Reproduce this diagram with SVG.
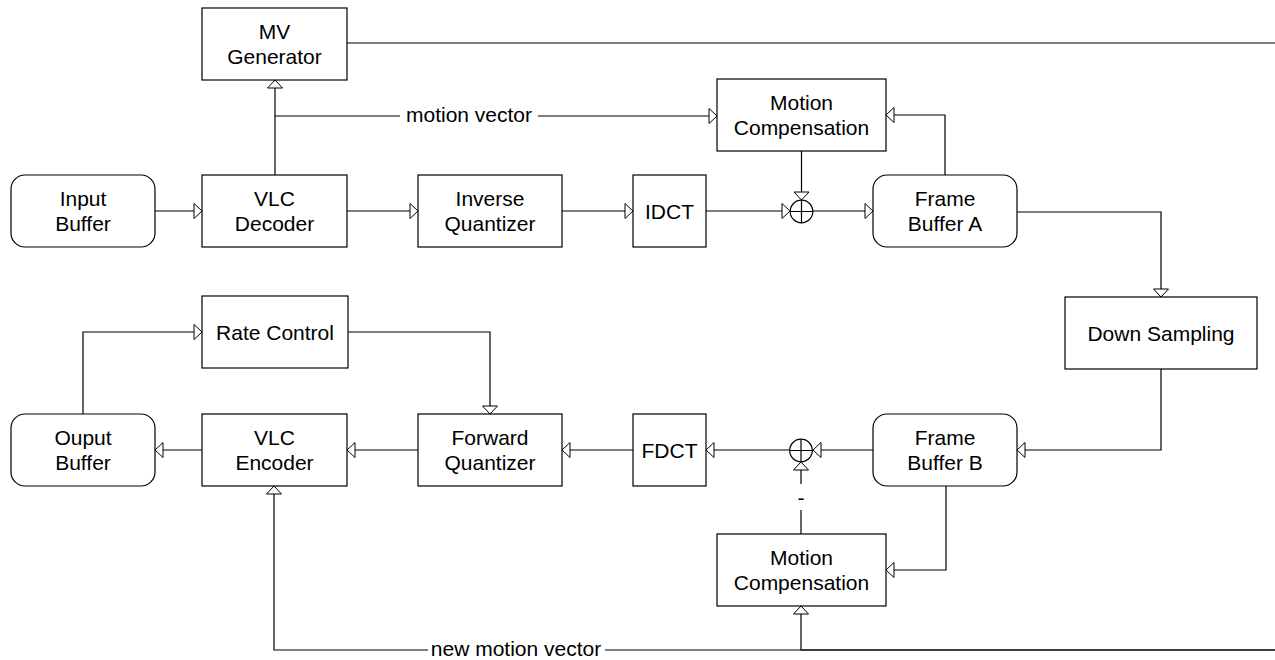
<svg xmlns="http://www.w3.org/2000/svg" width="1275" height="660" viewBox="0 0 1275 660">
  <defs>
    <marker id="arrow" markerUnits="userSpaceOnUse" markerWidth="10" markerHeight="18" viewBox="-1 -1 10 18" refX="8" refY="8" orient="auto" overflow="visible">
      <path d="M0,0.5 L8,8 L0,15.5 Z" fill="#fff" stroke="#000" stroke-width="1"/>
    </marker>
    <style>
      .box { fill: #fff; stroke: #000; stroke-width: 1.2; }
      .lbl { font-family: "Liberation Sans", Arial, sans-serif; font-size: 21px; fill: #000; text-anchor: middle; }
      .wire { fill: none; stroke: #000; stroke-width: 1.2; }
      .arr { marker-end: url(#arrow); }
      .gap { fill: #fff; stroke: none; }
    </style>
  </defs>
  <rect width="1275" height="660" fill="#fff"/>

  <!-- connectors -->
  <g id="connectors">
    <path class="wire arr" d="M155,211 H202"/>
    <path class="wire arr" d="M347,211 H418"/>
    <path class="wire arr" d="M562,211 H633"/>
    <path class="wire arr" d="M706,211 H790"/>
    <path class="wire arr" d="M813,211 H873"/>
    <path class="wire arr" d="M275,175 V80"/>
    <path class="wire arr" d="M275,116 H717"/>
    <rect class="gap" x="400" y="104" width="138" height="24"/>
    <text class="lbl" x="469" y="121.5">motion vector</text>
    <path class="wire" d="M347,43 H1275"/>
    <path class="wire arr" d="M945,175 V115 H886"/>
    <path class="wire arr" d="M801.5,151 V200"/>
    <path class="wire arr" d="M1017,212 H1161 V297"/>
    <path class="wire arr" d="M1161,369 V450 H1017"/>
    <path class="wire arr" d="M873,450 H813"/>
    <path class="wire arr" d="M790,450 H706"/>
    <path class="wire arr" d="M633,450 H562"/>
    <path class="wire arr" d="M418,450 H347"/>
    <path class="wire arr" d="M202,450 H155"/>
    <path class="wire arr" d="M83,414 V332 H202"/>
    <path class="wire arr" d="M347,332 H490 V414"/>
    <path class="wire arr" d="M946,486 V570 H886"/>
    <path class="wire arr" d="M801,534 V462"/>
    <rect class="gap" x="794" y="484" width="14" height="26"/>
    <text class="lbl" x="801" y="505">-</text>
    <path class="wire arr" d="M1275,650 H274 V486"/>
    <path class="wire arr" d="M1275,650 H801 V606"/>
    <rect class="gap" x="428" y="638" width="177" height="22"/>
    <text class="lbl" x="516" y="655.5">new motion vector</text>
  </g>

  <!-- summing junctions -->
  <g id="sum-top">
    <circle cx="801.5" cy="211.5" r="11.3" fill="#fff" stroke="#000" stroke-width="1.2"/>
    <path class="wire" d="M790.2,211.5 H812.8 M801.5,200.2 V222.8"/>
  </g>
  <g id="sum-bottom">
    <circle cx="801" cy="450.5" r="11.3" fill="#fff" stroke="#000" stroke-width="1.2"/>
    <path class="wire" d="M789.7,450.5 H812.3 M801,439.2 V461.8"/>
  </g>

  <g id="input-buffer">
    <rect class="box" x="11" y="175" width="144" height="72" rx="14"/>
    <text class="lbl" x="83" y="206">Input</text>
    <text class="lbl" x="83" y="230.5">Buffer</text>
  </g>
  <g id="vlc-decoder">
    <rect class="box" x="202" y="175" width="145" height="72"/>
    <text class="lbl" x="274.5" y="206">VLC</text>
    <text class="lbl" x="274.5" y="230.5">Decoder</text>
  </g>
  <g id="mv-generator">
    <rect class="box" x="202" y="8" width="145" height="72"/>
    <text class="lbl" x="274.5" y="39">MV</text>
    <text class="lbl" x="274.5" y="63.5">Generator</text>
  </g>
  <g id="inverse-quantizer">
    <rect class="box" x="418" y="175" width="144" height="72"/>
    <text class="lbl" x="490" y="206">Inverse</text>
    <text class="lbl" x="490" y="230.5">Quantizer</text>
  </g>
  <g id="idct">
    <rect class="box" x="633" y="175" width="73" height="72"/>
    <text class="lbl" x="669.5" y="218.5">IDCT</text>
  </g>
  <g id="motion-compensation-a">
    <rect class="box" x="717" y="79" width="169" height="72"/>
    <text class="lbl" x="801.5" y="110">Motion</text>
    <text class="lbl" x="801.5" y="134.5">Compensation</text>
  </g>
  <g id="frame-buffer-a">
    <rect class="box" x="873" y="175" width="144" height="72" rx="14"/>
    <text class="lbl" x="945" y="206">Frame</text>
    <text class="lbl" x="945" y="230.5">Buffer A</text>
  </g>
  <g id="down-sampling">
    <rect class="box" x="1065" y="297" width="192" height="72"/>
    <text class="lbl" x="1161" y="340.5">Down Sampling</text>
  </g>
  <g id="rate-control">
    <rect class="box" x="202" y="296" width="146" height="72"/>
    <text class="lbl" x="275" y="339.5">Rate Control</text>
  </g>
  <g id="output-buffer">
    <rect class="box" x="11" y="414" width="144" height="72" rx="14"/>
    <text class="lbl" x="83" y="445">Ouput</text>
    <text class="lbl" x="83" y="469.5">Buffer</text>
  </g>
  <g id="vlc-encoder">
    <rect class="box" x="202" y="414" width="145" height="72"/>
    <text class="lbl" x="274.5" y="445">VLC</text>
    <text class="lbl" x="274.5" y="469.5">Encoder</text>
  </g>
  <g id="forward-quantizer">
    <rect class="box" x="418" y="414" width="144" height="72"/>
    <text class="lbl" x="490" y="445">Forward</text>
    <text class="lbl" x="490" y="469.5">Quantizer</text>
  </g>
  <g id="fdct">
    <rect class="box" x="633" y="414" width="73" height="72"/>
    <text class="lbl" x="669.5" y="457.5">FDCT</text>
  </g>
  <g id="frame-buffer-b">
    <rect class="box" x="873" y="414" width="144" height="72" rx="14"/>
    <text class="lbl" x="945" y="445">Frame</text>
    <text class="lbl" x="945" y="469.5">Buffer B</text>
  </g>
  <g id="motion-compensation-b">
    <rect class="box" x="717" y="534" width="169" height="72"/>
    <text class="lbl" x="801.5" y="565">Motion</text>
    <text class="lbl" x="801.5" y="589.5">Compensation</text>
  </g>
</svg>
